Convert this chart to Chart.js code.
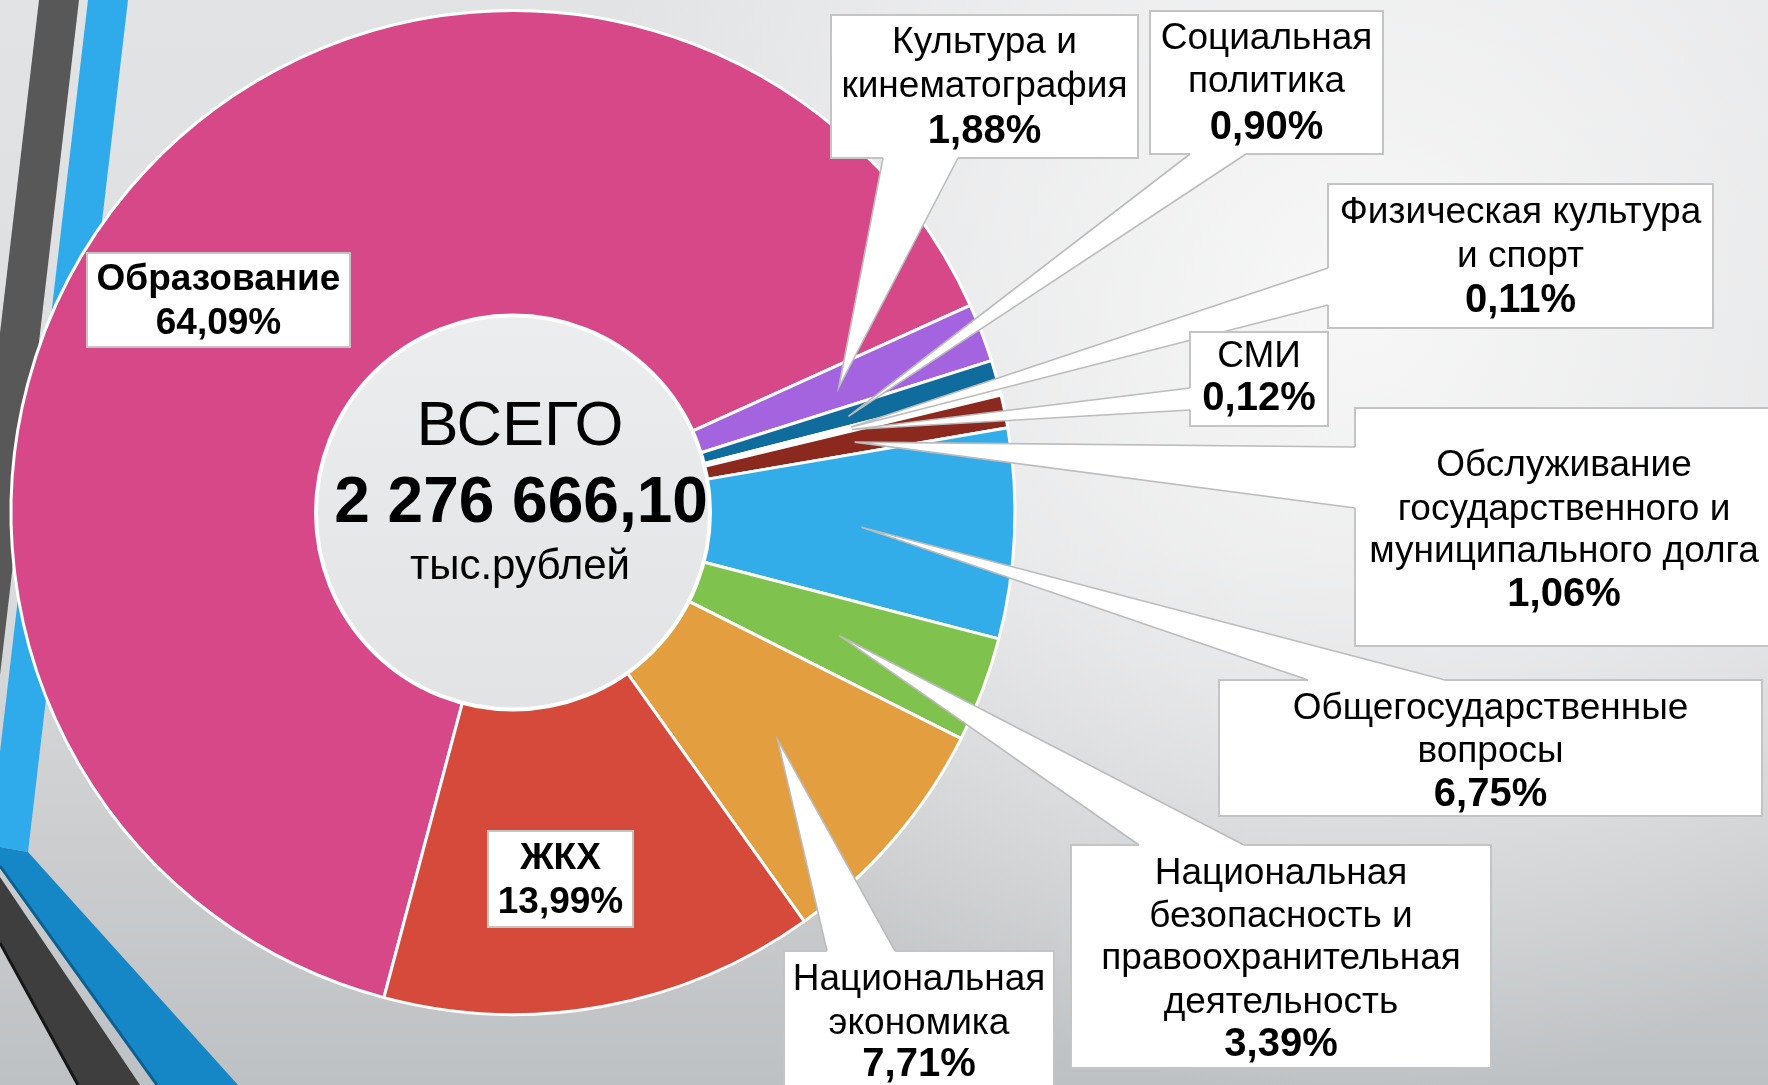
<!DOCTYPE html>
<html lang="ru">
<head>
<meta charset="utf-8">
<title>Структура расходов бюджета</title>
<script src="https://cdn.jsdelivr.net/npm/chart.js@4.4.1/dist/chart.umd.min.js"></script>
<style>
  html, body { margin: 0; padding: 0; overflow: hidden; background: #e2e3e4; }
  canvas { display: block; }
</style>
</head>
<body>
<canvas id="budgetChart" width="1768" height="1085"></canvas>
<script>
// разделы расходов (по часовой стрелке, начиная с образования)
const sections = [
  ['Образование'],
  ['Культура и', 'кинематография'],
  ['Социальная', 'политика'],
  ['Физическая культура', 'и спорт'],
  ['СМИ'],
  ['Обслуживание', 'государственного и', 'муниципального долга'],
  ['Общегосударственные', 'вопросы'],
  ['Национальная', 'безопасность и', 'правоохранительная', 'деятельность'],
  ['Национальная', 'экономика'],
  ['ЖКХ']
];
// доля в общем объеме расходов, %
const shares = [64.09, 1.88, 0.90, 0.11, 0.12, 1.06, 6.75, 3.39, 7.71, 13.99];
const totalLines = ['ВСЕГО', '2 276 666,10', 'тыс.рублей'];

const sliceColors = ['#d64887', '#a463df', '#0f6c9c', '#ffffff', '#ffffff',
                     '#8b291f', '#33acea', '#7fc24e', '#e29e3f', '#d54a3a'];

const FONT = '"Liberation Sans", Arial, sans-serif';

// рамки подписей: [x, y, w, h], центры строк по y, основание выноски
const callouts = [
  { box: [87, 253, 263, 94], lines: [280, 324], inside: true },
  { box: [831, 15, 307, 143], lines: [43, 87, 132], base: ['bottom', 883, 958] },
  { box: [1150, 11, 233, 143], lines: [39, 82, 128], base: ['bottom', 1190, 1246] },
  { box: [1328, 184, 385, 144], lines: [213, 257, 301], base: ['left', 268, 305] },
  { box: [1190, 332, 138, 94], lines: [357, 399], base: ['left', 388, 410] },
  { box: [1355, 408, 418, 238], lines: [466, 510, 552, 595], base: ['left', 447, 508] },
  { box: [1219, 680, 543, 136], lines: [709, 752, 795], base: ['top', 1308, 1445] },
  { box: [1071, 845, 420, 223], lines: [874, 917, 959, 1003, 1045], base: ['top', 1139, 1244] },
  { box: [784, 951, 270, 150], lines: [980, 1024, 1065], base: ['top', 827, 895] },
  { box: [488, 831, 145, 96], lines: [859, 903], inside: true }
];

function pct(v) {
  return v.toFixed(2).replace('.', ',') + '%';
}

function fillPoly(ctx, pts, color) {
  ctx.beginPath();
  ctx.moveTo(pts[0][0], pts[0][1]);
  for (let i = 1; i < pts.length; i++) ctx.lineTo(pts[i][0], pts[i][1]);
  ctx.closePath();
  ctx.fillStyle = color;
  ctx.fill();
}

// фон слайда с полосами слева
const backdrop = {
  id: 'backdrop',
  beforeDraw(chart) {
    const ctx = chart.ctx;
    const w = chart.width, h = chart.height;
    ctx.save();
    let g = ctx.createLinearGradient(0, 0, 0, h);
    g.addColorStop(0, '#e2e3e5');
    g.addColorStop(0.5, '#dcdddf');
    g.addColorStop(1, '#bec1c3');
    ctx.fillStyle = g;
    ctx.fillRect(0, 0, w, h);
    let r = ctx.createRadialGradient(1350, 300, 0, 1350, 300, 800);
    r.addColorStop(0, 'rgba(250,250,250,0.9)');
    r.addColorStop(0.5, 'rgba(248,248,248,0.5)');
    r.addColorStop(1, 'rgba(248,248,248,0)');
    ctx.fillStyle = r;
    ctx.fillRect(0, 0, w, h);

    fillPoly(ctx, [[39, 0], [79, 0], [0, 675], [0, 333]], '#585858');
    fillPoly(ctx, [[88, 0], [128, 0], [28, 852], [0, 847], [0, 752]], '#2faaea');
    fillPoly(ctx, [[0, 847], [28, 852], [238, 1085], [157, 1085], [0, 866]], '#1587c6');
    fillPoly(ctx, [[0, 877], [140, 1085], [78, 1085], [0, 943]], '#3e3e3e');
    ctx.lineWidth = 3;
    ctx.strokeStyle = '#0d5f8d';
    ctx.beginPath(); ctx.moveTo(0, 866); ctx.lineTo(157, 1085); ctx.stroke();
    ctx.strokeStyle = '#161616';
    ctx.beginPath(); ctx.moveTo(0, 943); ctx.lineTo(78, 1085); ctx.stroke();
    ctx.restore();
  }
};

// центр кольца и подписи с выносками
const labels = {
  id: 'labels',
  afterDatasetsDraw(chart) {
    const ctx = chart.ctx;
    const arcs = chart.getDatasetMeta(0).data;
    const cx = arcs[0].x, cy = arcs[0].y;
    ctx.save();

    // внутренний круг
    const inner = 197;
    let g = ctx.createLinearGradient(0, cy - inner, 0, cy + inner);
    g.addColorStop(0, '#ecedee');
    g.addColorStop(1, '#e2e3e4');
    ctx.beginPath();
    ctx.arc(cx, cy, inner, 0, Math.PI * 2);
    ctx.fillStyle = g;
    ctx.fill();
    ctx.lineWidth = 4;
    ctx.strokeStyle = '#ffffff';
    ctx.stroke();

    ctx.fillStyle = '#000';
    ctx.textAlign = 'center';
    ctx.textBaseline = 'middle';
    ctx.font = '63px ' + FONT;
    ctx.fillText(totalLines[0], cx + 7, cy - 85);
    ctx.font = 'bold 64px ' + FONT;
    ctx.fillText(totalLines[1], cx + 8, cy - 8);
    ctx.font = '42px ' + FONT;
    ctx.fillText(totalLines[2], cx + 7, cy + 55);

    callouts.forEach((c, i) => {
      const [bx, by, bw, bh] = c.box;
      const arc = arcs[i];
      if (c.base) {
        const mid = (arc.startAngle + arc.endAngle) / 2;
        const rr = arc.outerRadius * 0.695;
        const tx = cx + Math.cos(mid) * rr, ty = cy + Math.sin(mid) * rr;
        let p1, p2;
        const [side, a, b] = c.base;
        if (side === 'bottom') { p1 = [a, by + bh]; p2 = [b, by + bh]; }
        else if (side === 'top') { p1 = [a, by]; p2 = [b, by]; }
        else { p1 = [bx, a]; p2 = [bx, b]; }
        fillPoly(ctx, [[tx, ty], p1, p2], '#ffffff');
        ctx.fillStyle = '#ffffff';
        ctx.fillRect(bx, by, bw, bh);
        ctx.lineWidth = 2;
        ctx.strokeStyle = '#c4c4c4';
        ctx.strokeRect(bx, by, bw, bh);
        ctx.lineWidth = 3;
        ctx.strokeStyle = '#ffffff';
        ctx.beginPath(); ctx.moveTo(p1[0], p1[1]); ctx.lineTo(p2[0], p2[1]); ctx.stroke();
        ctx.lineWidth = 1.6;
        ctx.strokeStyle = '#bcbcbc';
        ctx.beginPath();
        ctx.moveTo(p1[0], p1[1]); ctx.lineTo(tx, ty); ctx.lineTo(p2[0], p2[1]);
        ctx.stroke();
      } else {
        ctx.fillStyle = '#ffffff';
        ctx.fillRect(bx, by, bw, bh);
        ctx.lineWidth = 2;
        ctx.strokeStyle = '#c4c4c4';
        ctx.strokeRect(bx, by, bw, bh);
      }

      const textX = bx + bw / 2;
      const texts = sections[i].concat([pct(shares[i])]);
      ctx.fillStyle = '#000';
      texts.forEach((t, k) => {
        const last = k === texts.length - 1;
        if (c.inside) ctx.font = 'bold 37px ' + FONT;
        else ctx.font = last ? 'bold 40px ' + FONT : '37px ' + FONT;
        ctx.fillText(t, textX, c.lines[k]);
      });
    });
    ctx.restore();
  }
};

new Chart(document.getElementById('budgetChart'), {
  type: 'doughnut',
  data: {
    labels: sections.map(s => s.join(' ')),
    datasets: [{
      data: shares,
      backgroundColor: sliceColors,
      borderColor: '#ffffff',
      borderWidth: 3
    }]
  },
  options: {
    responsive: false,
    animation: false,
    rotation: 194.9,
    radius: 502,
    cutout: 195,
    layout: { padding: { left: 0, right: 742, top: 0, bottom: 60 } },
    plugins: {
      legend: { display: false },
      tooltip: { enabled: false }
    }
  },
  plugins: [backdrop, labels]
});
</script>
</body>
</html>
